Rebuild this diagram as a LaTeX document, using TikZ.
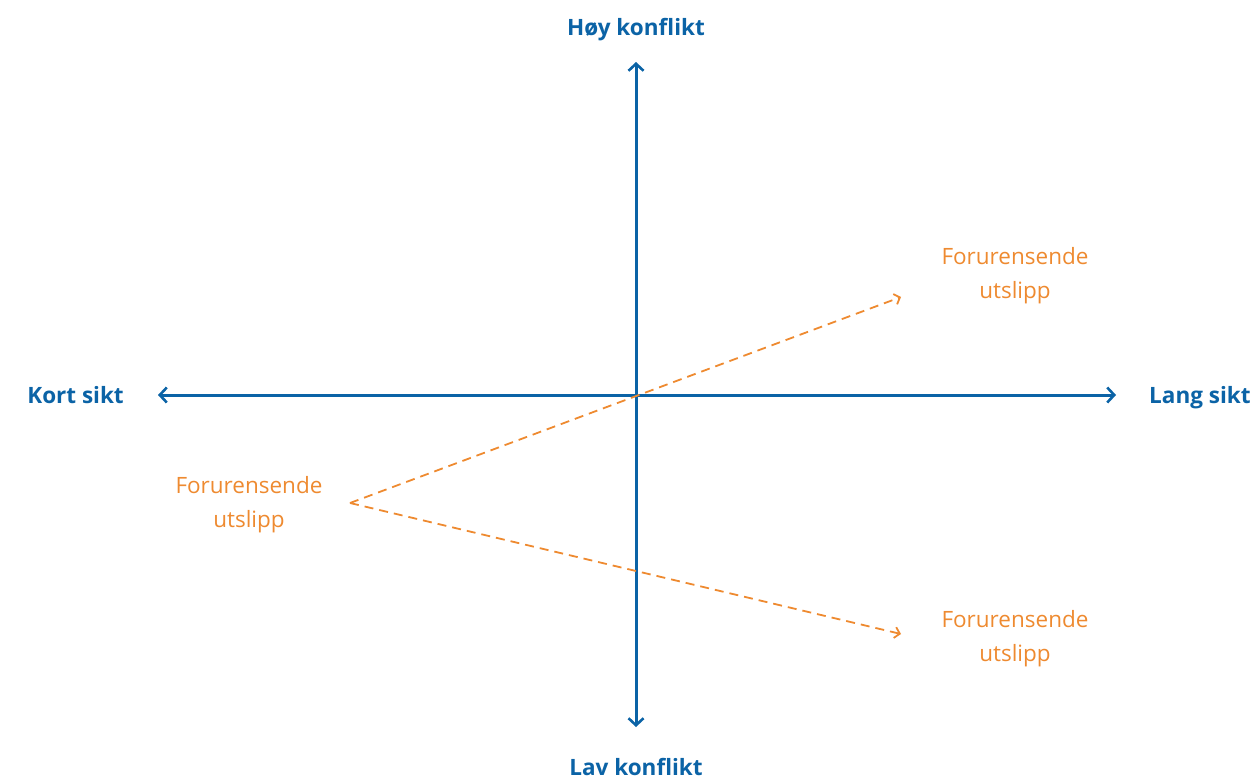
\documentclass[tikz,border=0pt]{standalone}
\usepackage{fontspec}
\setmainfont{Open Sans}
\usetikzlibrary{arrows.meta}
\definecolor{axblue}{HTML}{0B63A6}
\definecolor{emorange}{HTML}{EE8A30}
\tikzset{
  axis/.style={draw=axblue, line width=3pt, {Straight Barb[length=7pt,width=15pt,line width=2.6pt]}-{Straight Barb[length=7pt,width=15pt,line width=2.6pt]}},
  axlabel/.style={text=axblue, font=\fontsize{22.5}{26}\selectfont\bfseries, inner sep=0pt},
  emlabel/.style={text=emorange, font=\fontsize{22.5}{34}\selectfont, align=center, inner sep=0pt},
  emline/.style={draw=emorange, line width=1.8pt, dash pattern=on 9pt off 6pt, -{Straight Barb[length=5pt,width=11pt,line width=1.8pt]}}
}
\begin{document}
\begin{tikzpicture}[x=1pt,y=-1pt]
\useasboundingbox (0,0) rectangle (1256,779);
\coordinate (top) at (636,62);
\coordinate (bot) at (636,727);
\coordinate (left) at (158,395);
\coordinate (right) at (1116,395);
\coordinate (src) at (350,503);
\coordinate (up) at (901,297);
\coordinate (dn) at (901,634);
\draw[axis] (bot) -- (top);
\draw[axis] (left) -- (right);
\node[axlabel, anchor=base] (hoy) at (636,35) {Høy konflikt};
\node[axlabel, anchor=base] (lav) at (636,775) {Lav konflikt};
\node[axlabel, anchor=base east] (kort) at (124,403) {Kort sikt};
\node[axlabel, anchor=base west] (lang) at (1149,403) {Lang sikt};
\node[emlabel] (e1) at (1015,276) {Forurensende\\utslipp};
\node[emlabel] (e2) at (1015,639) {Forurensende\\utslipp};
\node[emlabel] (e0) at (249,505) {Forurensende\\utslipp};
\draw[emline] (src) -- (up);
\draw[emline] (src) -- (dn);
\end{tikzpicture}
\end{document}
